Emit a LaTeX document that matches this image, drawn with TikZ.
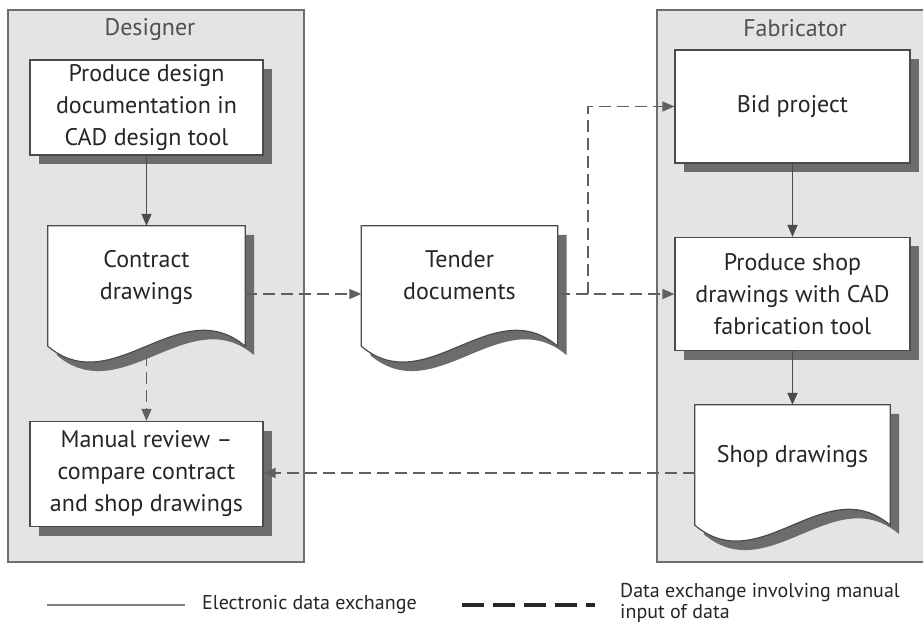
\documentclass[tikz,border=0pt]{standalone}
\usepackage{fontspec}
\setmainfont{PT Sans}
\usetikzlibrary{arrows.meta,shadows}

\definecolor{panelfill}{RGB}{228,228,230}
\definecolor{panelline}{RGB}{110,110,110}
\definecolor{boxline}{RGB}{75,75,75}
\definecolor{shadowgray}{RGB}{108,108,108}
\definecolor{textgray}{RGB}{38,38,38}
\definecolor{titlegray}{RGB}{80,80,80}
\definecolor{dashgray}{RGB}{95,95,95}

\pgfdeclarelayer{panels}
\pgfdeclarelayer{docs}
\pgfsetlayers{panels,docs,main}

\newcommand{\boxfont}{\fontsize{24}{32}\selectfont}
\newcommand{\legendfont}{\fontsize{20}{21}\selectfont}

% document symbol with wavy bottom, drawn round a named node
\newcommand{\docshape}[1]{%
  \fill[shadowgray, transform canvas={shift={(9pt,-9pt)}}] (#1.north west) -- (#1.north east) -- ([yshift=16pt]#1.south east) .. controls ([xshift=-65pt,yshift=71pt]#1.south east) and ([xshift=65pt,yshift=-39pt]#1.south west) .. ([yshift=16pt]#1.south west) -- cycle;
  \filldraw[fill=white, draw=boxline, line width=1.2pt] (#1.north west) -- (#1.north east) -- ([yshift=16pt]#1.south east) .. controls ([xshift=-65pt,yshift=71pt]#1.south east) and ([xshift=65pt,yshift=-39pt]#1.south west) .. ([yshift=16pt]#1.south west) -- cycle;}

\begin{document}
\begin{tikzpicture}[x=1pt,y=1pt,
  taskbox/.style={draw=boxline, line width=1.2pt, fill=white, text=textgray, font=\boxfont, align=center, minimum width=233pt, inner sep=2pt, drop shadow={shadow xshift=9pt, shadow yshift=-9pt, fill=shadowgray, opacity=1}},
  docnode/.style={minimum width=197pt, minimum height=136pt, inner sep=0pt, text=textgray, font=\boxfont, align=center, text depth=38pt},
  paneltitle/.style={text=titlegray, font=\boxfont, inner sep=0pt},
  legendtext/.style={text=textgray, font=\legendfont, inner sep=0pt, anchor=west, align=left},
  elecarrow/.style={draw=boxline, line width=1.5pt, -{Triangle[length=12pt,width=10pt]}},
  manualarrow/.style={draw=dashgray, line width=1.5pt, dash pattern=on 12pt off 6pt, -{Triangle[length=12pt,width=10pt]}}]
\useasboundingbox (0,0) rectangle (923,630);

% Panels
\begin{pgfonlayer}{panels}
\fill[white] (0,0) rectangle (923,630);
\filldraw[fill=panelfill, draw=panelline, line width=1.5pt] (8,68) rectangle (304,620);
\filldraw[fill=panelfill, draw=panelline, line width=1.5pt] (657,68) rectangle (940,620);
\end{pgfonlayer}
\node[paneltitle] (designer) at (150,600) {Designer};
\node[paneltitle] (fabricator) at (795,602) {Fabricator};

% Designer side
\node[taskbox, minimum height=95pt] (design) at (146.5,522.5) {Produce design\\documentation in\\CAD design tool};
\node[docnode] (contract) at (146.5,336) {Contract\\drawings};
\node[taskbox, minimum height=105pt] (review) at (146.5,156) {Manual review –\\compare contract\\and shop drawings};

% Tender
\node[docnode, minimum width=196pt] (tender) at (459.5,336) {Tender\\documents};

% Fabricator side
\node[taskbox, minimum width=235pt, minimum height=113pt] (bid) at (792.5,523.5) {Bid project};
\node[taskbox, minimum width=235pt, minimum height=113pt] (shopcad) at (792.5,336) {Produce shop\\drawings with CAD\\fabrication tool};
\node[docnode, minimum width=195pt] (shop) at (792.5,157) {Shop drawings};

\begin{pgfonlayer}{docs}
\docshape{contract}
\docshape{tender}
\docshape{shop}
\end{pgfonlayer}

% Connectors
\coordinate (split) at (588,336);
\draw[elecarrow] (design) -- (contract);
\draw[manualarrow] ([yshift=8pt]contract.south) -- (review.north);
\draw[manualarrow] (contract.east) -- (tender.west);
\draw[manualarrow] (tender.east) -- (shopcad.west);
\draw[manualarrow] (split) |- (bid.west);
\draw[elecarrow] (bid) -- (shopcad);
\draw[elecarrow] (shopcad) -- (shop);
\draw[manualarrow] (shop.west) -- (shop.west -| review.east);

% Legend
\node[legendtext] (eleclabel) at (202,25) {Electronic data exchange};
\node[legendtext] (manuallabel) at (620,27) {Data exchange involving manual\\input of data};
\draw[draw=gray, line width=2pt] (47,25) -- (185,25);
\draw[draw=textgray, line width=4pt, dash pattern=on 22pt off 9pt] (462,25) -- (595,25);
\end{tikzpicture}
\end{document}
